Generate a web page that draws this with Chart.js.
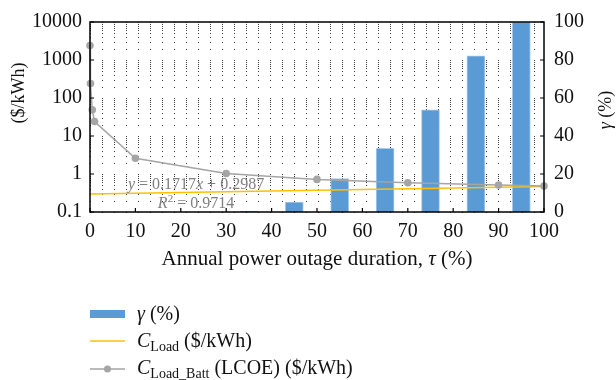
<!DOCTYPE html>
<html>
<head>
<meta charset="utf-8">
<script src="https://cdn.jsdelivr.net/npm/chart.js@4.4.1/dist/chart.umd.min.js"></script>
<style>
  html, body { margin: 0; padding: 0; background: #fff; }
  #wrap { width: 616px; height: 380px; position: relative; }
</style>
</head>
<body>
<div id="wrap"><canvas id="c"></canvas></div>
<script>
// Outage duration (%) for each γ bar and the share of load served, γ (%)
const tauBars = [35, 45, 55, 65, 75, 85, 95];
const gamma = [0.5, 5.2, 17.6, 33.5, 53.8, 82.2, 100];

// Levelised cost of load with battery, C_Load_Batt (LCOE), $/kWh
const tauBatt = [0, 0.1, 0.5, 1, 10, 30, 50, 70, 90, 100];
const cBatt = [2400, 240, 49, 24, 2.6, 1.03, 0.72, 0.59, 0.51, 0.48];

// Grid cost of load, C_Load ($/kWh), linear fit y = 0.1717x + 0.2987
const tauLoad = [0, 100];
const cLoad = [0.2987, 0.4704];

// Axis ticks
const costTicks = [0.1, 1, 10, 100, 1000, 10000];
const gammaTicks = [0, 20, 40, 60, 80, 100];
const tauTicks = [0, 10, 20, 30, 40, 50, 60, 70, 80, 90, 100];

const SERIF = "'Liberation Serif', 'DejaVu Serif', serif";
const BLUE = '#5b9bd5';
const GOLD = '#ffc000';
const GREY = '#a5a5a5';

Chart.defaults.font.family = SERIF;
Chart.defaults.color = '#111';

function partFont(p, size) {
  const s = (p.sub || p.sup) ? Math.round(size * 0.7) : size;
  return (p.i ? 'italic ' : '') + s + 'px ' + SERIF;
}
function richWidth(ctx, parts, size) {
  let w = 0;
  parts.forEach(p => { ctx.font = partFont(p, size); w += ctx.measureText(p.t).width; });
  return w;
}
function drawRich(ctx, parts, x, y, size, align) {
  const w = richWidth(ctx, parts, size);
  let cx = align === 'center' ? x - w / 2 : x;
  ctx.textBaseline = 'alphabetic';
  ctx.textAlign = 'left';
  parts.forEach(p => {
    ctx.font = partFont(p, size);
    const dy = p.sub ? size * 0.18 : (p.sup ? -size * 0.38 : 0);
    ctx.fillText(p.t, cx, y + dy);
    cx += ctx.measureText(p.t).width;
  });
}

// log-scale minor values between the labelled decades
function minorLogValues() {
  const out = [];
  for (let d = 0; d < costTicks.length - 1; d++) {
    for (let k = 1; k <= 9; k++) out.push(costTicks[d] * k);
  }
  out.push(costTicks[costTicks.length - 1]);
  return out;
}

const decor = {
  id: 'decor',
  beforeDatasetsDraw(chart) {
    const { ctx, chartArea: a, scales } = chart;
    ctx.save();
    ctx.strokeStyle = '#3a3a3a';
    ctx.lineWidth = 1;
    ctx.setLineDash([1, 11]);
    minorLogValues().forEach(v => {
      const y = Math.round(scales.y.getPixelForValue(v)) + 0.5;
      ctx.beginPath();
      ctx.moveTo(a.left, y);
      ctx.lineTo(a.right, y);
      ctx.stroke();
    });
    ctx.restore();
  },
  afterDatasetsDraw(chart) {
    const { ctx, chartArea: a, scales } = chart;
    ctx.save();
    // fit labels
    ctx.fillStyle = '#7f7f7f';
    drawRich(ctx, [{ t: 'y', i: true }, { t: ' = 0.1717' }, { t: 'x', i: true }, { t: ' + 0.2987' }], 196, 189, 16, 'center');
    drawRich(ctx, [{ t: 'R', i: true }, { t: '2', sup: true }, { t: ' = 0.9714' }], 196, 208, 16, 'center');

    // frame
    ctx.strokeStyle = '#000';
    ctx.lineWidth = 1.5;
    ctx.strokeRect(a.left, a.top, a.right - a.left, a.bottom - a.top);

    // inward tick marks
    ctx.lineWidth = 1.2;
    ctx.beginPath();
    costTicks.forEach(v => {
      const y = scales.y.getPixelForValue(v);
      ctx.moveTo(a.left, y); ctx.lineTo(a.left + 4, y);
    });
    gammaTicks.forEach(v => {
      const y = scales.y2.getPixelForValue(v);
      ctx.moveTo(a.right, y); ctx.lineTo(a.right - 4, y);
    });
    tauTicks.forEach(v => {
      const x = scales.x.getPixelForValue(v);
      ctx.moveTo(x, a.bottom); ctx.lineTo(x, a.bottom - 4);
    });
    ctx.stroke();
    ctx.restore();
  },
  afterDraw(chart) {
    const { ctx, chartArea: a } = chart;
    ctx.save();
    ctx.fillStyle = '#111';
    // x-axis title
    drawRich(ctx, [{ t: 'Annual power outage duration, ' }, { t: 'τ', i: true }, { t: ' (%)' }], 317, 265, 21, 'center');

    // left axis title
    ctx.save();
    ctx.translate(24, 93);
    ctx.rotate(-Math.PI / 2);
    drawRich(ctx, [{ t: '($/kWh)' }], 0, 0, 18, 'center');
    ctx.restore();

    // right axis title
    ctx.save();
    ctx.translate(611, 110);
    ctx.rotate(-Math.PI / 2);
    drawRich(ctx, [{ t: 'γ', i: true }, { t: ' (%)' }], 0, 0, 18, 'center');
    ctx.restore();

    // legend
    const lx = 90, sw = 35, tx = 137;
    ctx.fillStyle = BLUE;
    ctx.fillRect(lx, 310, sw, 8);
    ctx.fillStyle = '#111';
    drawRich(ctx, [{ t: 'γ', i: true }, { t: ' (%)' }], tx, 320, 20, 'left');

    ctx.strokeStyle = GOLD;
    ctx.lineWidth = 1.5;
    ctx.beginPath(); ctx.moveTo(lx, 341); ctx.lineTo(lx + sw, 341); ctx.stroke();
    drawRich(ctx, [{ t: 'C', i: true }, { t: 'Load', sub: true }, { t: ' ($/kWh)' }], tx, 347, 20, 'left');

    ctx.strokeStyle = GREY;
    ctx.beginPath(); ctx.moveTo(lx, 369); ctx.lineTo(lx + sw, 369); ctx.stroke();
    ctx.fillStyle = GREY;
    ctx.beginPath(); ctx.arc(lx + sw / 2, 369, 3.5, 0, Math.PI * 2); ctx.fill();
    ctx.fillStyle = '#111';
    drawRich(ctx, [{ t: 'C', i: true }, { t: 'Load_Batt', sub: true }, { t: ' (LCOE) ($/kWh)' }], tx, 374, 20, 'left');
    ctx.restore();
  }
};

new Chart(document.getElementById('c'), {
  type: 'bar',
  data: {
    datasets: [
      {
        type: 'line',
        label: 'C_Load_Batt (LCOE) ($/kWh)',
        data: tauBatt.map((t, i) => ({ x: t, y: cBatt[i] })),
        yAxisID: 'y',
        borderColor: GREY,
        backgroundColor: GREY,
        borderWidth: 1.5,
        pointRadius: 3.8,
        pointBorderWidth: 0,
        tension: 0,
        clip: false,
        order: 1
      },
      {
        type: 'line',
        label: 'C_Load ($/kWh)',
        data: tauLoad.map((t, i) => ({ x: t, y: cLoad[i] })),
        yAxisID: 'y',
        borderColor: GOLD,
        borderWidth: 1.6,
        pointRadius: 0,
        order: 2
      },
      {
        type: 'bar',
        label: 'γ (%)',
        data: tauBars.map((t, i) => ({ x: t, y: gamma[i] })),
        yAxisID: 'y2',
        backgroundColor: BLUE,
        borderColor: '#a9c9e9',
        borderWidth: 1,
        barThickness: 18,
        order: 3
      }
    ]
  },
  options: {
    responsive: true,
    maintainAspectRatio: false,
    animation: false,
    layout: { padding: { top: 15, left: 0, right: 0, bottom: 0 } },
    plugins: { legend: { display: false }, tooltip: { enabled: false } },
    scales: {
      x: {
        type: 'linear',
        min: 0, max: 100,
        offset: false,
        grid: { display: false, drawTicks: false },
        border: { display: false },
        afterBuildTicks: s => { s.ticks = tauTicks.map(v => ({ value: v })); },
        afterFit: s => { s.height = 168; },
        ticks: { font: { size: 20 }, color: '#111', padding: 8, maxRotation: 0 }
      },
      y: {
        type: 'logarithmic',
        position: 'left',
        min: 0.1, max: 10000,
        grid: { display: false, drawTicks: false },
        border: { display: false },
        afterBuildTicks: s => { s.ticks = costTicks.map(v => ({ value: v })); },
        afterFit: s => { s.width = 90; },
        ticks: { font: { size: 20 }, color: '#111', padding: 8, callback: v => String(v) }
      },
      y2: {
        type: 'linear',
        position: 'right',
        min: 0, max: 100,
        grid: { display: false, drawTicks: false },
        border: { display: false },
        afterBuildTicks: s => { s.ticks = gammaTicks.map(v => ({ value: v })); },
        afterFit: s => { s.width = 72; },
        ticks: { font: { size: 20 }, color: '#111', padding: 10 }
      }
    }
  },
  plugins: [decor]
});
</script>
</body>
</html>
